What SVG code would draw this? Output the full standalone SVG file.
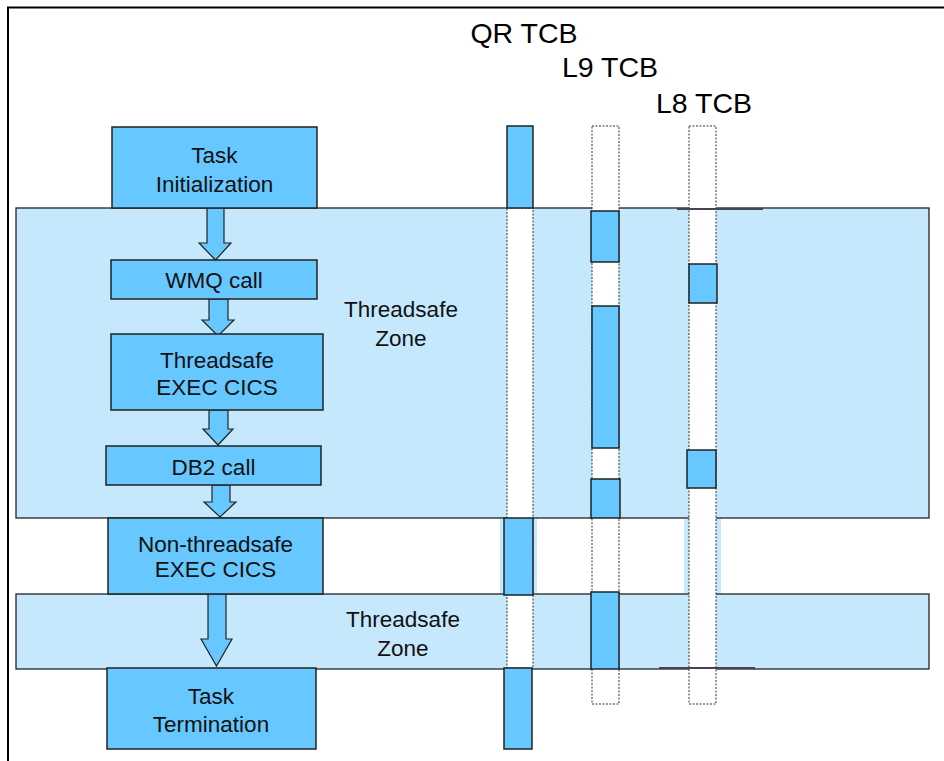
<svg xmlns="http://www.w3.org/2000/svg" width="944" height="761" viewBox="0 0 944 761">
<style>
.zone{fill:#C6E8FC;stroke:#222;stroke-width:1.3}
.box{fill:#66C8FF;stroke:#222;stroke-width:1.5}
.col{fill:#fff;stroke:#333;stroke-width:1;stroke-dasharray:2,1.5}
.strip{fill:#C6E8FC;stroke:none}
.arrow{fill:#66C8FF;stroke:#222;stroke-width:1.2}
.t{font-family:"Liberation Sans",Arial,sans-serif;font-size:22.5px;fill:#111;text-anchor:middle}
.h{font-family:"Liberation Sans",Arial,sans-serif;font-size:28.5px;fill:#000;text-anchor:middle}
.seg{stroke:#445;stroke-width:2.2}
</style>
<rect width="944" height="761" fill="#fff"/>
<g id="frame"><path d="M8,761 V7.5 H944" fill="none" stroke="#000" stroke-width="2"/></g>

<g id="zone-threadsafe-1">
<rect class="zone" x="16" y="208" width="913" height="310"/>
<text class="t" x="401" y="317">Threadsafe</text>
<text class="t" x="401" y="346">Zone</text>
</g>
<g id="zone-threadsafe-2">
<rect class="zone" x="16" y="594" width="913" height="75"/>
<text class="t" x="403" y="627">Threadsafe</text>
<text class="t" x="403" y="656">Zone</text>
</g>
<g id="band-strips">
<rect class="strip" x="500" y="519" width="37" height="74"/>
<rect class="strip" x="684" y="519" width="37" height="74"/>
</g>

<g id="tcb-labels">
<text class="h" x="524" y="43">QR TCB</text>
<text class="h" x="610" y="77">L9 TCB</text>
<text class="h" x="704" y="113">L8 TCB</text>
</g>

<g id="col-qr">
<rect class="col" x="507" y="208" width="26" height="460"/>
<rect class="box" x="507" y="126" width="26" height="82"/>
<rect class="box" x="504" y="518" width="29" height="77"/>
<rect class="box" x="504" y="668" width="28" height="81"/>
</g>
<g id="col-l9">
<rect class="col" x="592" y="126" width="27" height="578"/>
<rect class="box" x="591" y="211" width="28" height="51"/>
<rect class="box" x="592" y="306" width="27" height="142"/>
<rect class="box" x="591" y="479" width="29" height="39"/>
<rect class="box" x="591" y="592" width="28" height="77"/>
</g>
<g id="col-l8">
<rect class="col" x="689" y="126" width="27" height="578"/>
<rect class="box" x="689" y="264" width="28" height="39"/>
<rect class="box" x="687" y="450" width="29" height="38"/>
</g>
<g id="segments">
<line class="seg" x1="677" y1="209" x2="763" y2="209"/>
<line class="seg" x1="659" y1="668" x2="755" y2="668"/>
</g>

<g id="connectors">
<polygon class="arrow" points="207,208 224,208 224,243 231,243 215.5,260 199,243 207,243"/>
<polygon class="arrow" points="209,299 228,299 228,320 234,320 218,336 202,320 209,320"/>
<polygon class="arrow" points="209,410 228,410 228,429 233,429 218,445 203,429 209,429"/>
<polygon class="arrow" points="212,485 230,485 230,502 236,502 220,517 204,502 212,502"/>
<polygon class="arrow" points="208,594 226,594 226,639 232,639 216.5,666 201,639 208,639"/>
</g>

<g id="node-task-init">
<rect class="box" x="112" y="127" width="205" height="81"/>
<text class="t" x="214.5" y="163">Task</text>
<text class="t" x="214.5" y="192">Initialization</text>
</g>
<g id="node-wmq">
<rect class="box" x="111" y="260" width="206" height="39"/>
<text class="t" x="214" y="288">WMQ call</text>
</g>
<g id="node-threadsafe-exec">
<rect class="box" x="111" y="334" width="212" height="76"/>
<text class="t" x="217" y="368">Threadsafe</text>
<text class="t" x="217" y="395">EXEC CICS</text>
</g>
<g id="node-db2">
<rect class="box" x="106" y="446" width="215" height="39"/>
<text class="t" x="213.5" y="475">DB2 call</text>
</g>
<g id="node-nonthreadsafe">
<rect class="box" x="108" y="518" width="215" height="76"/>
<text class="t" x="215.5" y="552">Non-threadsafe</text>
<text class="t" x="215.5" y="577">EXEC CICS</text>
</g>
<g id="node-task-term">
<rect class="box" x="107" y="668" width="209" height="81"/>
<text class="t" x="211" y="704">Task</text>
<text class="t" x="211" y="732">Termination</text>
</g>
</svg>
